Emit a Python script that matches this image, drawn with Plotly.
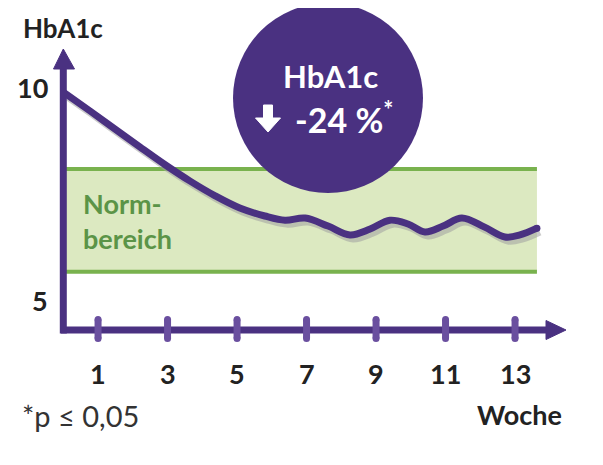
import plotly.graph_objects as go

# ---------------- data ----------------
weeks = [0, 0.77, 1.49, 2.21, 2.93, 3.65, 4.37, 5.08, 5.80, 6.38, 6.96, 7.62, 8.25,
         8.83, 9.40, 9.92, 10.41, 10.93, 11.47, 12.11, 12.71, 13.14, 13.63]
hba1c = [9.95, 9.50, 9.07, 8.64, 8.22, 7.83, 7.48, 7.19, 7.00, 6.90, 6.95, 6.76, 6.55,
         6.69, 6.90, 6.81, 6.62, 6.76, 6.95, 6.74, 6.50, 6.55, 6.71]
x_tick_weeks = [1, 3, 5, 7, 9, 11, 13]
x_tick_labels = ["1", "3", "5", "7", "9", "11", "13"]
y_tick_values = [5, 10]
y_tick_labels = ["5", "10"]
norm_low, norm_high = 5.67, 8.12
norm_label = "Norm-<br>bereich"
badge_title = "HbA1c"
badge_value = "-24 %"
footnote = "*p \u2264 0,05"

# ---------------- geometry helpers (screen pixels) ----------------
W, H = 603, 465
OFF = 8          # page body margin of the html page
PXW = 34.75      # px per week
PXV = 42.0       # px per HbA1c unit
X0 = 63.3        # screen pixel of week 0
Y10 = 90.0       # screen pixel of value 10

def wx(px):
    return (px - X0) / PXW

def vy(py):
    return 10 - (py - Y10) / PXV

PURPLE = "#4a3181"
TICKPURPLE = "#6a4f9f"
GREEN_LINE = "#79b24e"
GREEN_FILL = "#dce9c1"
GREEN_TEXT = "#5b9447"
DARK = "#222222"
FONT = "Lato"

axis_y = vy(330)
x_end = wx(566)
y_end = vy(49)
band_end = max(weeks)

fig = go.Figure()

# shadow of the curve
fig.add_trace(go.Scatter(
    x=[w + 3 / PXW for w in weeks], y=[v - 4 / PXV for v in hba1c],
    mode="lines", line=dict(color="rgba(160,160,160,0.55)", width=7, shape="spline", smoothing=1.0),
    hoverinfo="skip", showlegend=False))
# main curve
fig.add_trace(go.Scatter(
    x=weeks, y=hba1c, mode="lines",
    line=dict(color=PURPLE, width=7, shape="spline", smoothing=1.0),
    showlegend=False))
# rounded end of the curve
fig.add_trace(go.Scatter(
    x=[weeks[-1]], y=[hba1c[-1]], mode="markers",
    marker=dict(color=PURPLE, size=7, line=dict(width=0)),
    hoverinfo="skip", showlegend=False))

shapes = []
# normal range band
shapes.append(dict(type="rect", xref="x", yref="y", x0=0, x1=band_end, y0=norm_low, y1=norm_high,
                   fillcolor=GREEN_FILL, line=dict(width=0), layer="below"))
for v in (norm_low, norm_high):
    shapes.append(dict(type="line", xref="x", yref="y", x0=0, x1=band_end, y0=v, y1=v,
                       line=dict(color=GREEN_LINE, width=4), layer="below"))

# axes
shapes.append(dict(type="line", xref="x", yref="y", x0=wx(61), x1=wx(550), y0=axis_y, y1=axis_y,
                   line=dict(color=PURPLE, width=7), layer="above"))
shapes.append(dict(type="line", xref="x", yref="y", x0=0, x1=0, y0=vy(333.5), y1=vy(66),
                   line=dict(color=PURPLE, width=7), layer="above"))
# arrow heads
shapes.append(dict(type="path", xref="x", yref="y",
                   path=f"M {wx(546)},{vy(320.5)} L {x_end},{axis_y} L {wx(546)},{vy(339.5)} Z",
                   fillcolor=PURPLE, line=dict(color=PURPLE, width=1), layer="above"))
shapes.append(dict(type="path", xref="x", yref="y",
                   path=f"M {wx(53.5)},{vy(69)} L 0,{y_end} L {wx(74.5)},{vy(69)} Z",
                   fillcolor=PURPLE, line=dict(color=PURPLE, width=1), layer="above"))
# tick marks with rounded ends
tr = 3.5
for w in x_tick_weeks:
    shapes.append(dict(type="line", xref="x", yref="y", x0=w, x1=w, y0=vy(316 + tr), y1=vy(342 - tr),
                       line=dict(color=TICKPURPLE, width=7), layer="above"))
    for cpy in (316 + tr, 342 - tr):
        shapes.append(dict(type="circle", xref="x", yref="y",
                           x0=w - tr / PXW, x1=w + tr / PXW, y0=vy(cpy + tr), y1=vy(cpy - tr),
                           fillcolor=TICKPURPLE, line=dict(width=0), layer="above"))

# badge circle
cx, cy, r = 328, 98, 95
shapes.append(dict(type="circle", xref="x", yref="y",
                   x0=wx(cx - r), x1=wx(cx + r), y0=vy(cy + r), y1=vy(cy - r),
                   fillcolor=PURPLE, line=dict(width=0), layer="above"))
# down arrow inside badge
ax = 268
shapes.append(dict(type="path", xref="x", yref="y",
                   path=(f"M {wx(ax-4.5)},{vy(105)} L {wx(ax+4.5)},{vy(105)} L {wx(ax+4.5)},{vy(118)} "
                         f"L {wx(ax+12.5)},{vy(118)} L {wx(ax)},{vy(132)} L {wx(ax-12.5)},{vy(118)} "
                         f"L {wx(ax-4.5)},{vy(118)} Z"),
                   fillcolor="white", line=dict(color="white", width=1), layer="above"))

annotations = []
def txt(text, x, y, size, color=DARK, xanchor="center", weight=700):
    annotations.append(dict(text=text, x=x, y=y, xref="x", yref="y", showarrow=False,
                            xanchor=xanchor, yanchor="middle",
                            font=dict(family=FONT, size=size, color=color, weight=weight)))

txt("HbA1c", wx(21), vy(28), 26, xanchor="left")
for v, lab in zip(y_tick_values, y_tick_labels):
    txt(lab, wx(50), v + (0.05 if v == 10 else 0), 27, xanchor="right")
for w, lab in zip(x_tick_weeks, x_tick_labels):
    txt(lab, w, vy(373), 27)
txt("Woche", wx(564), vy(414), 27, xanchor="right")
txt(footnote, wx(20), vy(415), 29, color="#333333", xanchor="left", weight=400)
annotations.append(dict(text=norm_label, x=wx(81), y=vy(221), xref="x", yref="y", showarrow=False,
                        xanchor="left", yanchor="middle", align="left",
                        font=dict(family=FONT, size=27, color=GREEN_TEXT, weight=700)))
txt(badge_title, wx(330), vy(76), 31, color="white")
txt(badge_value + "<sup>*</sup>", wx(293), vy(118), 34, color="white", xanchor="left")

fig.update_layout(
    width=W, height=H, margin=dict(l=0, r=0, t=0, b=0),
    paper_bgcolor="white", plot_bgcolor="white",
    shapes=shapes, annotations=annotations, showlegend=False,
    xaxis=dict(range=[wx(OFF), wx(OFF + W)], visible=False, fixedrange=True),
    yaxis=dict(range=[vy(OFF + H), vy(OFF)], visible=False, fixedrange=True),
)
fig.write_html("out.html")
